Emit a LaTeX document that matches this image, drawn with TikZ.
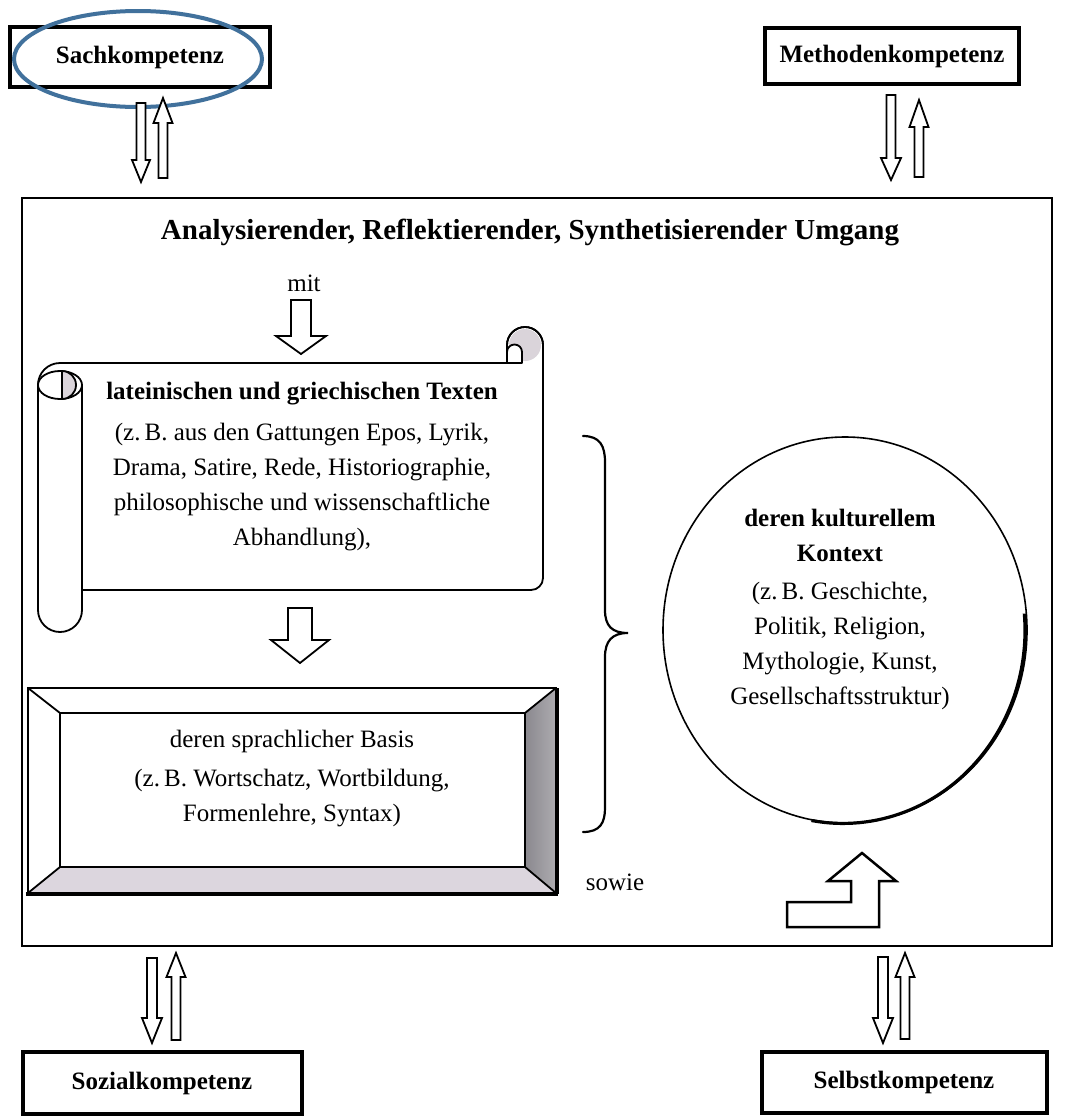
\documentclass[tikz,border=0pt]{standalone}
\usepackage{fontspec}
\setmainfont{Liberation Serif}
\usetikzlibrary{shapes.geometric}
\definecolor{ovalblue}{RGB}{65,113,156}
\definecolor{bevelright}{RGB}{138,136,142}
\definecolor{bevelbottom}{RGB}{220,214,222}
\definecolor{curlgray}{RGB}{218,212,218}
\newcommand{\blockarrow}[6]{%
  \filldraw[arrowshape] (#1-#5,#2) -- (#1-#5,#3) -- (#1-#6,#3) -- (#1,#4) -- (#1+#6,#3) -- (#1+#5,#3) -- (#1+#5,#2) -- cycle;}
\tikzset{
  arrowshape/.style={draw=black, fill=white, line width=1.8pt, line join=miter},
  compbox/.style={draw=black, line width=4pt, inner sep=0pt, font=\fontsize{25}{30}\selectfont\bfseries},
  bodytext/.style={inner sep=0pt, align=center, font=\fontsize{25}{35}\selectfont},
  boldtext/.style={inner sep=0pt, align=center, font=\fontsize{25}{35}\selectfont\bfseries},
  scrollline/.style={draw=black, fill=white, line width=1.8pt, line join=round},
  bevline/.style={draw=black, line width=1.8pt},
}
\begin{document}
\begin{tikzpicture}[x=1pt,y=-1pt]
\useasboundingbox (0,0) rectangle (1069,1119);
\fill[white] (0,0) rectangle (1069,1119);

% competence boxes
\node[compbox, minimum width=260pt, minimum height=60pt] (sach) at (140,57) {Sachkompetenz};
\node[compbox, minimum width=254pt, minimum height=56pt] (meth) at (892,56) {Methodenkompetenz};
\node[compbox, minimum width=279pt, minimum height=62pt] (sozial) at (162,1083) {Sozialkompetenz};
\node[compbox, minimum width=285pt, minimum height=61pt] (selbst) at (904,1082) {Selbstkompetenz};
\node[draw=ovalblue, line width=4pt, ellipse, minimum width=248pt, minimum height=96pt, inner sep=0pt] (oval) at (138,59) {};

% main frame
\node[draw=black, line width=1.8pt, minimum width=1030pt, minimum height=748pt, inner sep=0pt] (frame) at (537,572) {};

% pairs of arrows
\blockarrow{141}{103}{160}{182}{4.5}{9}
\blockarrow{163}{178}{123}{98}{4.5}{9.5}
\blockarrow{891}{95}{158}{180}{4.5}{10}
\blockarrow{919}{177}{127}{100}{4.5}{9.5}
\blockarrow{152}{958}{1018}{1043}{5}{10}
\blockarrow{176}{1040}{977}{953}{4.5}{9.5}
\blockarrow{883}{957}{1018}{1043}{5}{10}
\blockarrow{905}{1039}{977}{953}{4.5}{9.5}

% title
\node[inner sep=0pt, font=\fontsize{29}{34}\selectfont\bfseries] (title) at (530,232) {Analysierender, Reflektierender, Synthetisierender Umgang};
\node[bodytext] (mit) at (304,283) {mit};
\blockarrow{301}{300}{336}{354}{10}{25}

% scroll
\filldraw[scrollline] (38,385) arc[start angle=180, end angle=90, radius=22pt] -- (507,363) -- (507,345) arc[start angle=180, end angle=0, radius=18pt] -- (543,578) arc[start angle=0, end angle=-90, radius=12pt] -- (38,590) -- cycle;
\fill[curlgray] (525,345) circle[radius=16pt];
\filldraw[scrollline] (507,363) -- (507,352) arc[start angle=180, end angle=0, radius=7.5pt] -- (522,363) -- cycle;
\draw[line width=1.8pt] (507,345) arc[start angle=180, end angle=0, radius=18pt];
\filldraw[scrollline] (38,385) -- (38,610) arc[start angle=180, end angle=360, radius=22pt] -- (82,385) -- cycle;
\filldraw[scrollline] (60,385) ellipse[x radius=22pt, y radius=14pt];
\filldraw[scrollline, fill=curlgray] (62,399) -- (62,371) arc[start angle=90, end angle=-90, radius=14pt] -- cycle;

\node[boldtext] (texthead) at (302,394) {lateinischen und griechischen Texten};
\node[bodytext, anchor=north] (textbody) at (302,423) {(z.\,B. aus den Gattungen Epos, Lyrik,\\Drama, Satire, Rede, Historiographie,\\philosophische und wissenschaftliche\\Abhandlung),};

\blockarrow{300}{608}{640}{663}{12}{29}

% bevel box
\fill[bevelbottom] (28,893) -- (60,867) -- (525,867) -- (556,893) -- cycle;
\shade[left color=bevelright, right color=bevelright!70] (525,713) -- (556,688) -- (556,893) -- (525,867) -- cycle;
\draw[bevline] (28,688) rectangle (556,893);
\draw[bevline] (60,713) rectangle (525,867);
\draw[bevline] (28,688) -- (60,713) (556,688) -- (525,713) (28,893) -- (60,867) (556,893) -- (525,867);
\draw[line width=3.5pt] (26,894) -- (558,894);
\draw[line width=3pt] (557,688) -- (557,894);
\node[bodytext] (basishead) at (292,741) {deren sprachlicher Basis};
\node[bodytext, anchor=north] (basisbody) at (292,769) {(z.\,B. Wortschatz, Wortbildung,\\Formenlehre, Syntax)};

% brace
\draw[line width=2.2pt, line cap=round] (583,436) .. controls (600,436) and (605,446) .. (605,462) -- (605,610) .. controls (605,626) and (612,633) .. (628,633) .. controls (612,633) and (605,641) .. (605,657) -- (605,808) .. controls (605,823) and (600,832) .. (583,832);

% circle
\node[draw=black, line width=1.6pt, ellipse, minimum width=364pt, minimum height=386pt, inner sep=0pt] (kontext) at (845,630) {};
\draw[line width=3.2pt] (kontext.-100) arc[start angle=-100, end angle=5, x radius=182pt, y radius=193pt];
\node[boldtext] (kontexthead) at (840,535) {deren kulturellem\\Kontext};
\node[bodytext, anchor=north] (kontextbody) at (840,582) {(z.\,B. Geschichte,\\Politik, Religion,\\Mythologie, Kunst,\\Gesellschaftsstruktur)};

% sowie and bent arrow
\node[bodytext] (sowie) at (615,882) {sowie};
\filldraw[arrowshape, line width=2.5pt] (787,902) -- (851,902) -- (851,881) -- (828,881) -- (862,853) -- (896,881) -- (879,881) -- (879,927) -- (787,927) -- cycle;
\end{tikzpicture}
\end{document}
